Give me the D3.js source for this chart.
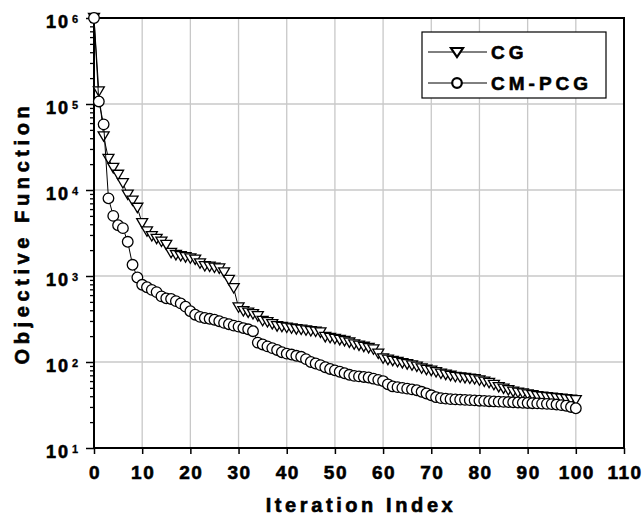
<!DOCTYPE html>
<html>
<head>
<meta charset="utf-8">
<script src="https://d3js.org/d3.v7.min.js"></script>
<style>
  body { margin: 0; background: #fff; }
  text { font-family: "Liberation Sans", Arial, sans-serif; font-weight: bold; fill: #000; stroke: #000; stroke-width: 0.6px; }
</style>
</head>
<body>
<script>
// values, one per iteration 0..100
var iterations = d3.range(0, 101);

var cgValues = [
  1e6, 1.4e5, 4.2e4, 2.3e4, 1.8e4, 1.5e4, 1.2e4, 8.8e3, 7.5e3, 6.2e3,
  4.1e3, 3.3e3, 2.9e3, 2.7e3, 2.5e3, 2.3e3, 1.85e3, 1.75e3, 1.7e3, 1.65e3,
  1.6e3, 1.55e3, 1.4e3, 1.3e3, 1.28e3, 1.25e3, 1.22e3, 1.1e3, 900, 720,
  430, 390, 375, 360, 340, 300, 290, 275, 260, 255,
  250, 245, 240, 237, 233, 228, 225, 220, 195, 190,
  185, 180, 175, 168, 160, 155, 150, 145, 140, 125,
  110, 106, 103, 100, 97, 94, 91, 88, 84, 81,
  79, 76, 73, 71, 69, 67, 66, 65, 64, 63,
  61, 59, 57, 54, 51, 49, 47, 45, 44, 43,
  42, 41, 40, 39.5, 39, 38.5, 38, 37.5, 37, 36.5,
  36
];

var cmpcgValues = [
  1e6, 1.07e5, 5.8e4, 8.0e3, 5.0e3, 3.9e3, 3.6e3, 2.5e3, 1.35e3, 960,
  790, 740, 690, 650, 580, 550, 540, 510, 480, 440,
  390, 355, 335, 325, 318, 310, 298, 285, 275, 265,
  258, 248, 240, 228, 168, 160, 152, 145, 138, 130,
  125, 122, 118, 115, 108, 100, 96, 92, 87, 83,
  80, 77, 74, 71, 69, 68, 67, 66, 64, 62,
  60, 55, 52, 51, 50, 49, 48, 47, 45, 43,
  41, 39, 38, 37.5, 37, 36.8, 36.5, 36.3, 36, 35.8,
  35.5, 35.3, 35, 34.8, 34.6, 34.4, 34.2, 34, 33.8, 33.6,
  33.4, 33.2, 33, 32.8, 32.6, 32.4, 32, 31.5, 31, 30,
  29
];

var xTicks = d3.range(0, 111, 10);
var yTicks = [1e1, 1e2, 1e3, 1e4, 1e5, 1e6];
var seriesNames = ["CG", "CM-PCG"];

var W = 644, H = 518;
var margin = {left: 94, top: 18, right: 20, bottom: 70};
var plotW = W - margin.left - margin.right;   // 530
var plotH = H - margin.top - margin.bottom;   // 430

var svg = d3.select("body").append("svg")
  .attr("width", W)
  .attr("height", H);

var x = d3.scaleLinear().domain([0, 110]).range([margin.left, margin.left + plotW]);
var y = d3.scaleLog().domain([10, 1e6]).range([margin.top + plotH, margin.top]);

// grid
var grid = svg.append("g").attr("stroke", "#c8c8c8").attr("stroke-width", 1.3);
grid.selectAll("line.gx").data(xTicks.slice(1, -1)).enter().append("line")
  .attr("x1", function(d){ return x(d); }).attr("x2", function(d){ return x(d); })
  .attr("y1", margin.top).attr("y2", margin.top + plotH);
grid.selectAll("line.gy").data(yTicks.slice(1, -1)).enter().append("line")
  .attr("y1", function(d){ return y(d); }).attr("y2", function(d){ return y(d); })
  .attr("x1", margin.left).attr("x2", margin.left + plotW);

// axes
var xAxis = d3.axisBottom(x).tickValues(xTicks).tickSize(6).tickFormat("");
var gx = svg.append("g").attr("transform", "translate(0," + (margin.top + plotH) + ")").call(xAxis);
gx.select(".domain").remove();
gx.selectAll(".tick line").attr("stroke", "#000").attr("stroke-width", 1.5);

// minor log ticks
var minor = [];
for (var e = 1; e < 6; e++) for (var m = 2; m < 10; m++) minor.push(m * Math.pow(10, e));
var yAxisMinor = d3.axisLeft(y).tickValues(minor).tickSize(4).tickFormat("");
var gym = svg.append("g").attr("transform", "translate(" + margin.left + ",0)").call(yAxisMinor);
gym.select(".domain").remove();
gym.selectAll(".tick line").attr("stroke", "#000").attr("stroke-width", 1.3);

var yAxis = d3.axisLeft(y).tickValues(yTicks).tickSize(8).tickFormat("");
var gy = svg.append("g").attr("transform", "translate(" + margin.left + ",0)").call(yAxis);
gy.select(".domain").remove();
gy.selectAll(".tick line").attr("stroke", "#000").attr("stroke-width", 1.5);

// frame
svg.append("rect")
  .attr("x", margin.left).attr("y", margin.top)
  .attr("width", plotW).attr("height", plotH)
  .attr("fill", "none").attr("stroke", "#000").attr("stroke-width", 2);

// tick labels
svg.selectAll("text.xt").data(xTicks).enter().append("text")
  .attr("x", function(d){ return x(d) + 1; })
  .attr("y", margin.top + plotH + 31)
  .attr("text-anchor", "middle")
  .style("font-size", "19px")
  .style("letter-spacing", "1.5px")
  .text(function(d){ return d; });

var yl = svg.selectAll("g.yt").data(yTicks).enter().append("g")
  .attr("transform", function(d){ return "translate(0," + y(d) + ")"; });
yl.append("text")
  .attr("x", 70).attr("y", 10)
  .attr("text-anchor", "end")
  .style("font-size", "18px")
  .style("letter-spacing", "2px")
  .text("10");
yl.append("text")
  .attr("x", 72).attr("y", 5)
  .style("font-size", "11px")
  .style("stroke-width", "0.3px")
  .text(function(d){ return Math.round(Math.log10(d)); });

// axis titles
svg.append("text")
  .attr("x", 361).attr("y", 512)
  .attr("text-anchor", "middle")
  .style("font-size", "20px")
  .style("letter-spacing", "3.6px")
  .text("Iteration Index");
svg.append("text")
  .attr("transform", "translate(29," + (margin.top + plotH / 2) + ") rotate(-90)")
  .attr("text-anchor", "middle")
  .style("font-size", "20px")
  .style("letter-spacing", "4.6px")
  .text("Objective Function");

// markers
var triPath = "M-5.5,-4.6L5.5,-4.6L0,4.8Z";
var line = d3.line()
  .x(function(d){ return x(d[0]); })
  .y(function(d){ return y(d[1]); });

function drawSeries(vals, shape) {
  var pts = iterations.map(function(i){ return [i, vals[i]]; });
  var g = svg.append("g");
  g.append("path").datum(pts)
    .attr("d", line)
    .attr("fill", "none").attr("stroke", "#000").attr("stroke-width", 1);
  var mk = g.selectAll("g.m").data(pts).enter().append("g")
    .attr("transform", function(d){ return "translate(" + x(d[0]) + "," + y(d[1]) + ")"; });
  if (shape == "tri") {
    mk.append("path").attr("d", triPath);
  } else {
    mk.append("circle").attr("r", 5.3);
  }
  mk.selectAll("path,circle").attr("fill", "#fff").attr("stroke", "#000").attr("stroke-width", 1.3);
}

drawSeries(cgValues, "tri");
drawSeries(cmpcgValues, "circle");

// legend
var lg = svg.append("g");
lg.append("rect")
  .attr("x", 422).attr("y", 32).attr("width", 184).attr("height", 66)
  .attr("fill", "#fff").attr("stroke", "#000").attr("stroke-width", 1.2);
var rows = lg.selectAll("g.row").data(seriesNames).enter().append("g")
  .attr("transform", function(d, i){ return "translate(0," + (52 + i * 31) + ")"; });
rows.append("line")
  .attr("x1", 428).attr("x2", 487).attr("y1", 0).attr("y2", 0)
  .attr("stroke", "#000").attr("stroke-width", 1);
rows.each(function(d, i){
  var r = d3.select(this);
  if (i == 0) {
    r.append("path").attr("d", "M-6,-4L6,-4L0,5Z").attr("transform", "translate(457,0)");
  } else {
    r.append("circle").attr("cx", 457).attr("cy", 0).attr("r", 4.8);
  }
});
rows.selectAll("path,circle").attr("fill", "#fff").attr("stroke", "#000").attr("stroke-width", 2.2);
rows.append("text")
  .attr("x", 491).attr("y", 7)
  .style("font-size", "19px")
  .style("letter-spacing", "4px")
  .text(function(d){ return d; });
</script>
</body>
</html>
